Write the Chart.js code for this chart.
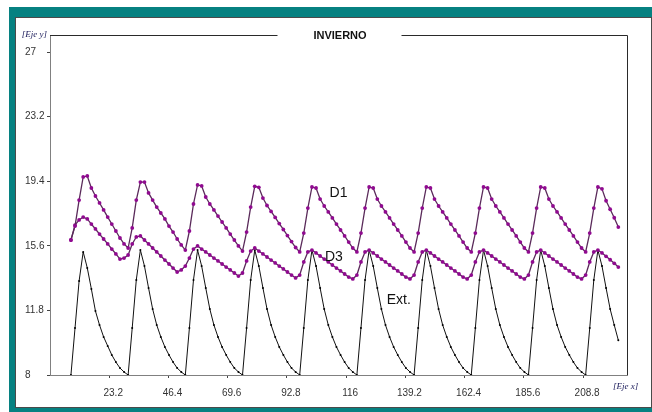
<!DOCTYPE html>
<html>
<head>
<meta charset="utf-8">
<script src="https://cdn.jsdelivr.net/npm/chart.js@4.4.1/dist/chart.umd.min.js"></script>
<style>
  html, body { margin: 0; padding: 0; background: #fff; }
  #teal { position: absolute; left: 9px; top: 7px; width: 643px; height: 405px; background: #068181; }
  #panel { position: absolute; left: 15px; top: 17px; width: 637px; height: 391px; box-sizing: border-box; border: 1px solid #4a4a4a; background: #fff; }
  #grafico { position: absolute; left: 16px; top: 18px; }
</style>
</head>
<body>
<div id="teal"></div>
<div id="panel"></div>
<canvas id="grafico" width="634" height="389"></canvas>
<script>
const chartTitle = "INVIERNO";
const yTicks = [8, 11.8, 15.6, 19.4, 23.2, 27];
const xTicks = [23.2, 46.4, 69.6, 92.8, 116, 139.2, 162.4, 185.6, 208.8];

// eje x (una fila por ciclo)
const xHours = [
  8.2, 9.8, 11.4, 13.0, 14.6, 16.2, 17.8, 19.4, 21.0, 22.6, 24.2, 25.8, 27.4, 29.0,
  30.6, 32.2, 33.8, 35.4, 37.0, 38.6, 40.2, 41.8, 43.4, 45.0, 46.6, 48.2, 49.8, 51.4,
  53.0, 54.6, 56.2, 57.8, 59.4, 61.0, 62.6, 64.2, 65.8, 67.4, 69.0, 70.6, 72.2, 73.8,
  75.4, 77.0, 78.6, 80.2, 81.8, 83.4, 85.0, 86.6, 88.2, 89.8, 91.4, 93.0, 94.6, 96.2,
  97.8, 99.4, 101.0, 102.6, 104.2, 105.8, 107.4, 109.0, 110.6, 112.2, 113.8, 115.4, 117.0, 118.6,
  120.2, 121.8, 123.4, 125.0, 126.6, 128.2, 129.8, 131.4, 133.0, 134.6, 136.2, 137.8, 139.4, 141.0,
  142.6, 144.2, 145.8, 147.4, 149.0, 150.6, 152.2, 153.8, 155.4, 157.0, 158.6, 160.2, 161.8, 163.4,
  165.0, 166.6, 168.2, 169.8, 171.4, 173.0, 174.6, 176.2, 177.8, 179.4, 181.0, 182.6, 184.2, 185.8,
  187.4, 189.0, 190.6, 192.2, 193.8, 195.4, 197.0, 198.6, 200.2, 201.8, 203.4, 205.0, 206.6, 208.2,
  209.8, 211.4, 213.0, 214.6, 216.2, 217.8, 219.4, 221.0, 222.6
];

const d1 = [
  15.94, 16.76, 18.29, 19.65, 19.71, 19.0, 18.53, 18.12, 17.71, 17.29, 16.88, 16.47, 16.06, 15.71,
  15.47, 16.65, 18.29, 19.35, 19.35, 18.71, 18.29, 17.88, 17.53, 17.18, 16.76, 16.41, 16.0, 15.65,
  15.35, 16.47, 18.06, 19.18, 19.12, 18.47, 18.06, 17.71, 17.35, 17.0, 16.65, 16.29, 15.94, 15.59,
  15.29, 16.41, 17.88, 19.1, 19.04, 18.41, 17.97, 17.62, 17.27, 16.91, 16.56, 16.2, 15.85, 15.5,
  15.24, 16.35, 17.82, 19.06, 19.0, 18.35, 17.94, 17.59, 17.24, 16.88, 16.53, 16.18, 15.82, 15.47,
  15.24, 16.35, 17.82, 19.06, 19.0, 18.35, 17.94, 17.59, 17.24, 16.88, 16.53, 16.18, 15.82, 15.47,
  15.24, 16.35, 17.82, 19.06, 19.0, 18.35, 17.94, 17.59, 17.24, 16.88, 16.53, 16.18, 15.82, 15.47,
  15.24, 16.35, 17.82, 19.06, 19.0, 18.35, 17.94, 17.59, 17.24, 16.88, 16.53, 16.18, 15.82, 15.47,
  15.24, 16.35, 17.82, 19.06, 19.0, 18.35, 17.94, 17.59, 17.24, 16.88, 16.53, 16.18, 15.82, 15.47,
  15.24, 16.35, 17.82, 19.06, 18.95, 18.25, 17.75, 17.25, 16.7
];

const d3 = [
  15.94, 16.82, 17.12, 17.29, 17.18, 16.88, 16.59, 16.29, 16.0, 15.71, 15.41, 15.12, 14.82, 14.88,
  15.06, 15.71, 16.12, 16.18, 15.94, 15.71, 15.47, 15.24, 15.0, 14.76, 14.53, 14.29, 14.06, 14.18,
  14.41, 14.88, 15.41, 15.59, 15.41, 15.24, 15.06, 14.88, 14.71, 14.53, 14.35, 14.18, 14.0, 13.82,
  14.0, 14.71, 15.29, 15.47, 15.29, 15.12, 14.94, 14.76, 14.59, 14.41, 14.24, 14.06, 13.88, 13.71,
  13.88, 14.65, 15.24, 15.35, 15.18, 15.0, 14.82, 14.65, 14.47, 14.29, 14.12, 13.94, 13.76, 13.65,
  13.88, 14.65, 15.24, 15.35, 15.18, 15.0, 14.82, 14.65, 14.47, 14.29, 14.12, 13.94, 13.76, 13.65,
  13.88, 14.65, 15.24, 15.35, 15.18, 15.0, 14.82, 14.65, 14.47, 14.29, 14.12, 13.94, 13.76, 13.65,
  13.88, 14.65, 15.24, 15.35, 15.18, 15.0, 14.82, 14.65, 14.47, 14.29, 14.12, 13.94, 13.76, 13.65,
  13.88, 14.65, 15.24, 15.35, 15.18, 15.0, 14.82, 14.65, 14.47, 14.29, 14.12, 13.94, 13.76, 13.65,
  13.88, 14.65, 15.24, 15.35, 15.18, 14.98, 14.78, 14.57, 14.35
];

const ext = [
  8.0, 10.76, 13.53, 15.24, 14.3, 13.06, 11.76, 10.94, 10.24, 9.71, 9.18, 8.76, 8.41, 8.18,
  8.0, 10.76, 13.59, 15.35, 14.41, 13.12, 11.88, 10.94, 10.24, 9.65, 9.18, 8.76, 8.41, 8.18,
  8.0, 10.76, 13.59, 15.35, 14.41, 13.12, 11.88, 10.94, 10.24, 9.65, 9.18, 8.76, 8.41, 8.18,
  8.0, 10.76, 13.59, 15.35, 14.41, 13.12, 11.88, 10.94, 10.24, 9.65, 9.18, 8.76, 8.41, 8.18,
  8.0, 10.76, 13.59, 15.35, 14.41, 13.12, 11.88, 10.94, 10.24, 9.65, 9.18, 8.76, 8.41, 8.18,
  8.0, 10.76, 13.59, 15.35, 14.41, 13.12, 11.88, 10.94, 10.24, 9.65, 9.18, 8.76, 8.41, 8.18,
  8.0, 10.76, 13.59, 15.35, 14.41, 13.12, 11.88, 10.94, 10.24, 9.65, 9.18, 8.76, 8.41, 8.18,
  8.0, 10.76, 13.59, 15.35, 14.41, 13.12, 11.88, 10.94, 10.24, 9.65, 9.18, 8.76, 8.41, 8.18,
  8.0, 10.76, 13.59, 15.35, 14.41, 13.12, 11.88, 10.94, 10.24, 9.65, 9.18, 8.76, 8.41, 8.18,
  8.0, 10.76, 13.59, 15.35, 14.41, 13.12, 11.88, 10.94, 10.05
];

// rótulos de las curvas (en unidades del gráfico)
const seriesLabels = [
  { text: "D1", x: 113.0, y: 18.71 },
  { text: "D3", x: 111.2, y: 14.94 },
  { text: "Ext.", x: 136.6, y: 12.41 }
];

const toPoints = vals => xHours.map((x, i) => ({ x: x, y: vals[i] }));

// marco superior cortado por el título, borde derecho y textos
const decorPlugin = {
  id: "decor",
  afterDraw(chart) {
    const { ctx, chartArea: a, scales } = chart;
    const cx = (a.left + a.right) / 2;
    ctx.save();
    ctx.strokeStyle = "#2a2a2a";
    ctx.lineWidth = 1;
    ctx.beginPath();
    ctx.moveTo(a.left, a.top + 0.5);
    ctx.lineTo(cx - 61, a.top + 0.5);
    ctx.moveTo(cx + 63, a.top + 0.5);
    ctx.lineTo(a.right + 0.5, a.top + 0.5);
    ctx.lineTo(a.right + 0.5, a.bottom);
    ctx.stroke();

    ctx.fillStyle = "#111";
    ctx.font = "bold 11px Arial";
    ctx.textAlign = "center";
    ctx.textBaseline = "middle";
    ctx.fillText(chartTitle, cx + 1.5, a.top + 0.5);

    ctx.font = "14px Arial";
    seriesLabels.forEach(l => {
      ctx.fillText(l.text, scales.x.getPixelForValue(l.x), scales.y.getPixelForValue(l.y));
    });

    ctx.fillStyle = "#1a1a5a";
    ctx.font = "italic 9px 'Liberation Serif', serif";
    ctx.textAlign = "right";
    ctx.fillText("[Eje y]", a.left - 3, a.top);
    ctx.textAlign = "left";
    ctx.fillText("[Eje x]", a.right - 14, a.bottom + 12);
    ctx.restore();
  }
};

const ctx = document.getElementById("grafico").getContext("2d");
new Chart(ctx, {
  type: "line",
  data: {
    datasets: [
      {
        label: "D1",
        data: toPoints(d1),
        borderColor: "#5a2a5a",
        borderWidth: 1.3,
        pointRadius: 1.9,
        pointBorderWidth: 0,
        pointBackgroundColor: "#900a90",
        tension: 0
      },
      {
        label: "D3",
        data: toPoints(d3),
        borderColor: "#5a2a5a",
        borderWidth: 1.3,
        pointRadius: 1.9,
        pointBorderWidth: 0,
        pointBackgroundColor: "#900a90",
        tension: 0
      },
      {
        label: "Ext.",
        data: toPoints(ext),
        borderColor: "#111",
        borderWidth: 1,
        pointRadius: 1,
        pointBorderWidth: 0,
        pointBackgroundColor: "#000",
        tension: 0
      }
    ]
  },
  options: {
    responsive: false,
    animation: false,
    devicePixelRatio: 1,
    layout: { padding: { left: 9, top: 17, right: 23, bottom: 0 } },
    plugins: { legend: { display: false }, tooltip: { enabled: false }, title: { display: false } },
    scales: {
      x: {
        type: "linear",
        min: 0,
        max: 226,
        afterBuildTicks: ax => { ax.ticks = xTicks.map(v => ({ value: v })); },
        afterFit: ax => { ax.height = 32; },
        border: { display: true, color: "#808080", width: 1 },
        grid: { drawOnChartArea: false, tickLength: 3, color: "#444" },
        ticks: {
          color: "#333",
          font: { family: "Arial", size: 10 },
          padding: 9,
          labelOffset: 4,
          maxRotation: 0,
          autoSkip: false,
          callback: v => String(v)
        }
      },
      y: {
        type: "linear",
        min: 8,
        max: 28,
        afterBuildTicks: ax => { ax.ticks = yTicks.map(v => ({ value: v })); },
        afterFit: ax => { ax.width = 25; },
        border: { display: true, color: "#808080", width: 1 },
        grid: { drawOnChartArea: false, tickLength: 3, color: "#444" },
        ticks: {
          crossAlign: "far",
          color: "#333",
          font: { family: "Arial", size: 10 },
          autoSkip: false,
          callback: v => String(v)
        }
      }
    }
  },
  plugins: [decorPlugin]
});
</script>
</body>
</html>
